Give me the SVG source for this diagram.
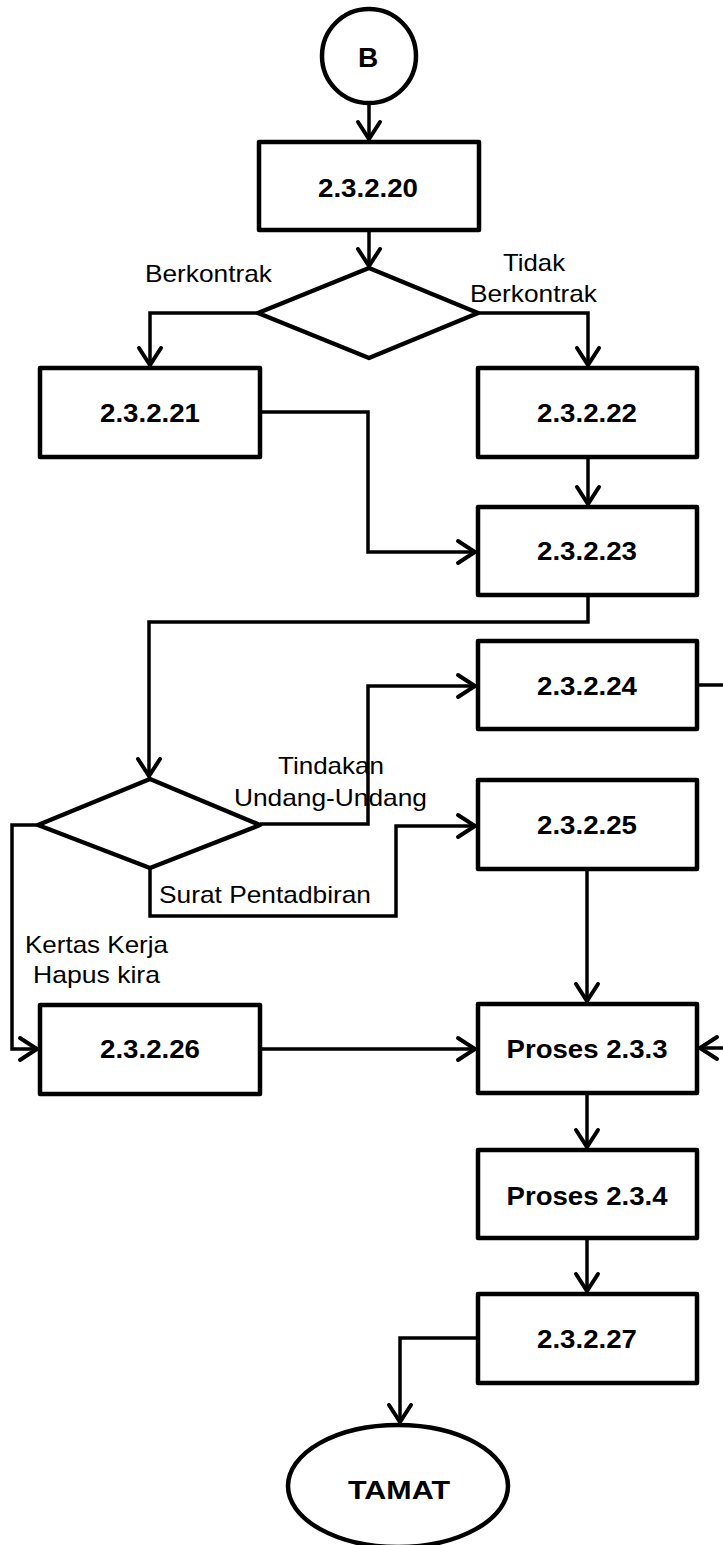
<svg xmlns="http://www.w3.org/2000/svg" width="723" height="1545" viewBox="0 0 723 1545">
<style>
.box{fill:#fff;stroke:#000;stroke-width:4.5;stroke-linejoin:round}
.con{fill:none;stroke:#000;stroke-width:3.5;stroke-linejoin:miter}
.b{font-family:"Liberation Sans",Arial,sans-serif;font-weight:bold;font-size:26px;fill:#000;text-anchor:middle}
.r{font-family:"Liberation Sans",Arial,sans-serif;font-size:24px;fill:#000}
</style>
<defs>
<marker id="arr" markerUnits="userSpaceOnUse" markerWidth="26" markerHeight="30" viewBox="-22 -15 26 30" refX="0" refY="0" orient="auto">
<path d="M-17,-11 L0,0 L-17,11" fill="none" stroke="#000" stroke-width="4" stroke-linecap="round"/>
</marker>
</defs>
<g id="connectors">
<path class="con" d="M369,102 V139" marker-end="url(#arr)"/>
<path class="con" d="M369,230 V266" marker-end="url(#arr)"/>
<path class="con" d="M258,313 H150 V365" marker-end="url(#arr)"/>
<path class="con" d="M478,313 H588 V365" marker-end="url(#arr)"/>
<path class="con" d="M588,457 V504" marker-end="url(#arr)"/>
<path class="con" d="M260,412 H368 V552 H475" marker-end="url(#arr)"/>
<path class="con" d="M588,595 V622 H149 V776" marker-end="url(#arr)"/>
<path class="con" d="M260,824 H368 V686 H475" marker-end="url(#arr)"/>
<path class="con" d="M150,868 V916 H396 V826 H475" marker-end="url(#arr)"/>
<path class="con" d="M38,825 H12 V1049 H37" marker-end="url(#arr)"/>
<path class="con" d="M260,1049 H475" marker-end="url(#arr)"/>
<path class="con" d="M697,685 H745 V1048 H700" marker-end="url(#arr)"/>
<path class="con" d="M587,869 V1001" marker-end="url(#arr)"/>
<path class="con" d="M587,1093 V1147" marker-end="url(#arr)"/>
<path class="con" d="M587,1238 V1291" marker-end="url(#arr)"/>
<path class="con" d="M478,1338 H400 V1422" marker-end="url(#arr)"/>
</g>
<g id="B">
<circle class="box" cx="369" cy="56" r="47"/>
<text class="b" x="368" y="67" style="font-size:28px">B</text>
</g>
<g id="n2.3.2.20">
<rect class="box" x="259" y="142" width="220" height="88"/>
<text class="b" x="368" y="197" textLength="100" lengthAdjust="spacingAndGlyphs">2.3.2.20</text>
</g>
<g id="d1">
<polygon class="box" points="369,268 478,313 369,358 258,313"/>
</g>
<g id="n2.3.2.21">
<rect class="box" x="40" y="368" width="220" height="89"/>
<text class="b" x="150" y="422" textLength="100" lengthAdjust="spacingAndGlyphs">2.3.2.21</text>
</g>
<g id="n2.3.2.22">
<rect class="box" x="478" y="368" width="219" height="89"/>
<text class="b" x="587" y="422" textLength="100" lengthAdjust="spacingAndGlyphs">2.3.2.22</text>
</g>
<g id="n2.3.2.23">
<rect class="box" x="478" y="507" width="219" height="88"/>
<text class="b" x="587" y="560" textLength="100" lengthAdjust="spacingAndGlyphs">2.3.2.23</text>
</g>
<g id="n2.3.2.24">
<rect class="box" x="478" y="641" width="219" height="88"/>
<text class="b" x="587" y="695" textLength="100" lengthAdjust="spacingAndGlyphs">2.3.2.24</text>
</g>
<g id="d2">
<polygon class="box" points="150,779 260,825 150,868 38,825"/>
</g>
<g id="n2.3.2.25">
<rect class="box" x="478" y="780" width="219" height="89"/>
<text class="b" x="587" y="834" textLength="100" lengthAdjust="spacingAndGlyphs">2.3.2.25</text>
</g>
<g id="n2.3.2.26">
<rect class="box" x="40" y="1005" width="220" height="89"/>
<text class="b" x="150" y="1058" textLength="100" lengthAdjust="spacingAndGlyphs">2.3.2.26</text>
</g>
<g id="p2.3.3">
<rect class="box" x="478" y="1004" width="219" height="89"/>
<text class="b" x="587" y="1058" textLength="161" lengthAdjust="spacingAndGlyphs">Proses 2.3.3</text>
</g>
<g id="p2.3.4">
<rect class="box" x="478" y="1150" width="219" height="88"/>
<text class="b" x="587" y="1205" textLength="161" lengthAdjust="spacingAndGlyphs">Proses 2.3.4</text>
</g>
<g id="n2.3.2.27">
<rect class="box" x="478" y="1294" width="219" height="89"/>
<text class="b" x="587" y="1348" textLength="100" lengthAdjust="spacingAndGlyphs">2.3.2.27</text>
</g>
<g id="TAMAT">
<ellipse class="box" cx="398" cy="1486" rx="110" ry="61"/>
<text class="b" x="399" y="1499" textLength="102" lengthAdjust="spacingAndGlyphs">TAMAT</text>
</g>
<g id="labels">
<text class="r" x="145" y="282" textLength="127" lengthAdjust="spacingAndGlyphs">Berkontrak</text>
<text class="r" x="503" y="271" textLength="62" lengthAdjust="spacingAndGlyphs">Tidak</text>
<text class="r" x="470" y="302" textLength="127" lengthAdjust="spacingAndGlyphs">Berkontrak</text>
<text class="r" x="278" y="774" textLength="106" lengthAdjust="spacingAndGlyphs">Tindakan</text>
<text class="r" x="234" y="806" textLength="193" lengthAdjust="spacingAndGlyphs">Undang-Undang</text>
<text class="r" x="159" y="903" textLength="212" lengthAdjust="spacingAndGlyphs">Surat Pentadbiran</text>
<text class="r" x="25" y="953" textLength="143" lengthAdjust="spacingAndGlyphs">Kertas Kerja</text>
<text class="r" x="33" y="983" textLength="127" lengthAdjust="spacingAndGlyphs">Hapus kira</text>
</g>
</svg>
